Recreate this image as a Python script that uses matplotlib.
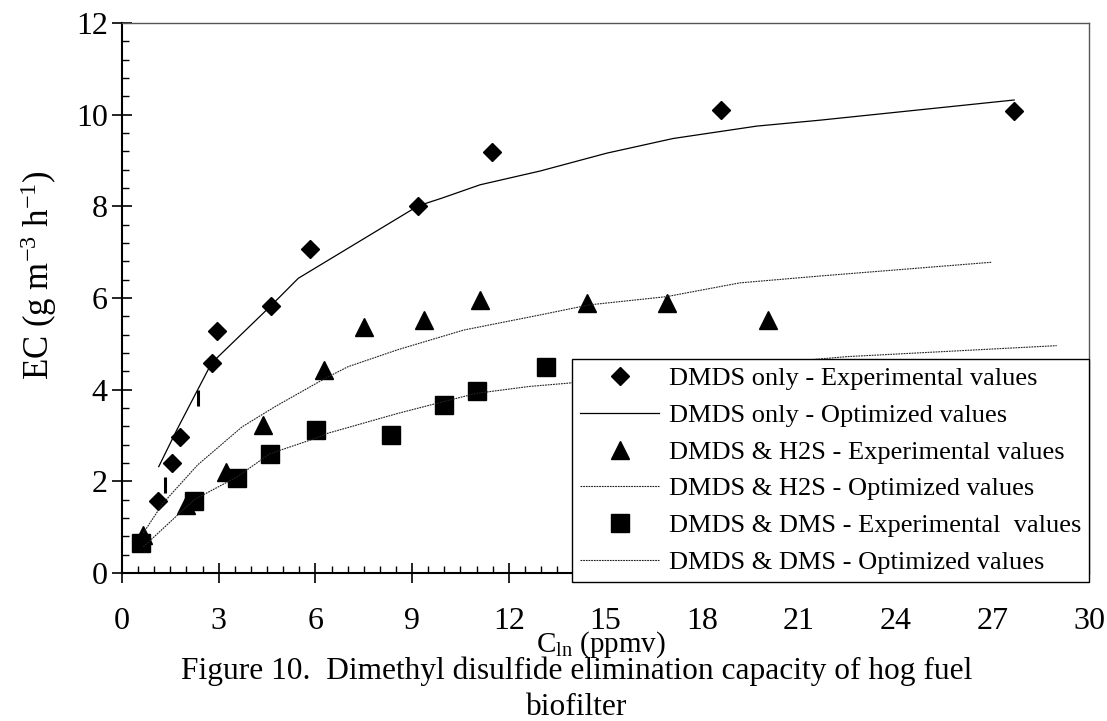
import matplotlib
matplotlib.use('Agg')
import matplotlib.pyplot as plt
from matplotlib.ticker import MultipleLocator

plt.rcParams['font.family'] = 'Liberation Serif'
plt.rcParams['mathtext.fontset'] = 'custom'
plt.rcParams['mathtext.rm'] = 'Liberation Serif'
plt.rcParams['mathtext.it'] = 'Liberation Serif:italic'

# DMDS only
dmds_x = [1.12, 1.55, 1.81, 2.78, 2.96, 4.62, 5.83, 9.19, 11.49, 18.58, 27.68]
dmds_y = [1.57, 2.41, 2.97, 4.58, 5.28, 5.83, 7.06, 8.01, 9.19, 10.1, 10.07]
dmds_fit_x = [1.14, 1.7, 2.35, 2.78, 4.62, 5.47, 9.19, 9.93, 11.11, 12.97, 15.04, 17.1, 19.69, 21.66, 27.68]
dmds_fit_y = [2.32, 3.12, 4.0, 4.58, 5.83, 6.43, 8.01, 8.18, 8.47, 8.77, 9.16, 9.48, 9.75, 9.88, 10.32]
bar_x = [1.32, 2.35]
bar_y = [1.93, 3.82]

# DMDS & H2S
h2s_x = [0.64, 2.0, 3.24, 4.37, 6.26, 7.52, 9.38, 11.11, 14.42, 16.9, 20.03]
h2s_y = [0.83, 1.48, 2.21, 3.23, 4.43, 5.37, 5.53, 5.96, 5.9, 5.88, 5.52]
h2s_fit_x = [0.66, 1.27, 2.35, 3.73, 4.75, 6.26, 7.01, 8.55, 10.6, 12.97, 14.5, 16.9, 19.17, 21.66, 26.98]
h2s_fit_y = [0.87, 1.52, 2.36, 3.19, 3.63, 4.23, 4.5, 4.87, 5.3, 5.63, 5.85, 6.03, 6.33, 6.48, 6.78]

# DMDS & DMS
dms_x = [0.6, 2.24, 3.58, 4.58, 6.01, 8.34, 9.98, 11.0, 13.16]
dms_y = [0.66, 1.57, 2.07, 2.6, 3.12, 3.01, 3.67, 3.96, 4.5]
dms_fit_x = [0.66, 2.24, 3.58, 4.58, 6.01, 6.39, 8.55, 9.98, 11.0, 12.64, 13.82, 18.0, 22.48, 29.0]
dms_fit_y = [0.57, 1.6, 2.1, 2.6, 2.94, 3.05, 3.48, 3.74, 3.92, 4.07, 4.14, 4.45, 4.72, 4.96]

fig = plt.figure(figsize=(11.07, 7.21), dpi=100)
ax = fig.add_axes([0.1102, 0.2053, 0.8735, 0.7628])

dots = (0, (1.6, 0.8))
ax.plot(dmds_x, dmds_y, 'D', color='black', ms=9.2, ls='none',
        label='DMDS only - Experimental values')
ax.plot(dmds_fit_x, dmds_fit_y, '-', color='black', lw=0.9,
        label='DMDS only - Optimized values')
ax.plot(h2s_x, h2s_y, '^', color='black', ms=13.5, ls='none',
        label='DMDS & H2S - Experimental values')
ax.plot(h2s_fit_x, h2s_fit_y, color='#222222', lw=0.8, ls=dots,
        label='DMDS & H2S - Optimized values')
ax.plot(dms_x, dms_y, 's', color='black', ms=12.5, ls='none',
        label='DMDS & DMS - Experimental  values')
ax.plot(dms_fit_x, dms_fit_y, color='#222222', lw=0.8, ls=dots,
        label='DMDS & DMS - Optimized values')
ax.plot(bar_x, bar_y, '|', color='black', ms=11.5, mew=2.2, ls='none')

ax.set_xlim(0, 30)
ax.set_ylim(0, 12)
ax.xaxis.set_major_locator(MultipleLocator(3))
ax.xaxis.set_minor_locator(MultipleLocator(0.5))
ax.yaxis.set_major_locator(MultipleLocator(2))
ax.yaxis.set_minor_locator(MultipleLocator(0.4))
ax.tick_params(which='major', direction='inout', length=14.5, width=1.2,
               labelsize=23, pad=1)
ax.tick_params(axis='x', which='major', pad=17)
ax.tick_params(axis='y', which='major', pad=3)
ax.tick_params(which='minor', direction='in', length=5, width=1.0)
ax.tick_params(top=False, right=False, which='both')

for side in ['left', 'bottom']:
    ax.spines[side].set_linewidth(1.5)
for side in ['top', 'right']:
    ax.spines[side].set_linewidth(1.0)
    ax.spines[side].set_color('#555555')

leg = ax.legend(loc='lower right', bbox_to_anchor=(1089 / 1107, (721 - 581.7) / 721),
                bbox_transform=fig.transFigure, borderaxespad=0, fontsize=19,
                fancybox=False, framealpha=1, edgecolor='black', handlelength=3.0,
                handletextpad=0.35, labelspacing=0.5, borderpad=0.3)
leg.get_frame().set_linewidth(1.0)

fig.text(0.0345, 0.618, 'EC (g m$^{-3}$ h$^{-1}$)', rotation=90, ha='center',
         va='center', fontsize=25)
fig.text(0.543, (721 - 652) / 721, 'C$_{\\mathrm{ln}}$ (ppmv)', ha='center',
         va='baseline', fontsize=21)
fig.text(0.521, (721 - 679) / 721,
         'Figure 10.  Dimethyl disulfide elimination capacity of hog fuel',
         ha='center', va='baseline', fontsize=22.6)
fig.text(0.521, (721 - 715) / 721, 'biofilter', ha='center', va='baseline',
         fontsize=22.6)

plt.savefig('out.png', dpi=100)
